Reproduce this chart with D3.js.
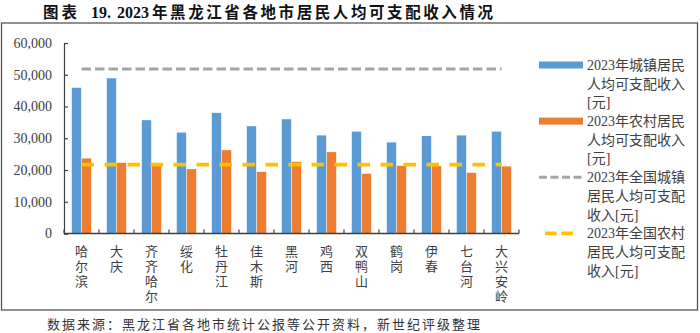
<!DOCTYPE html>
<html><head><meta charset="utf-8">
<script src="https://cdn.jsdelivr.net/npm/d3@7"></script>
<style>body{margin:0;background:#fff;}svg{display:block;}</style>
</head><body>
<svg id="c" width="700" height="333"></svg>
<script>
const categories = ["哈尔滨","大庆","齐齐哈尔","绥化","牡丹江","佳木斯","黑河","鸡西","双鸭山","鹤岗","伊春","七台河","大兴安岭"];
const urbanIncome = [45900, 48900, 35700, 31800, 38000, 33800, 36000, 30900, 32100, 28700, 30700, 30900, 32100];
const ruralIncome = [23650, 22270, 21850, 20280, 26260, 19440, 22580, 25630, 18810, 21330, 21230, 19120, 21130];
const nationalUrban = 51821;
const nationalRural = 21691;
const yTicks = [0, 10000, 20000, 30000, 40000, 50000, 60000];
const seriesNames = [
  ["2023年城镇居民","人均可支配收入","[元]"],
  ["2023年农村居民","人均可支配收入","[元]"],
  ["2023年全国城镇","居民人均可支配","收入[元]"],
  ["2023年全国农村","居民人均可支配","收入[元]"]
];
const titleParts = ["图表", "19.", "2023", "年黑龙江省各地市居民人均可支配收入情况"];
const sourceText = "数据来源：黑龙江省各地市统计公报等公开资料，新世纪评级整理";

const svg = d3.select("#c");
const serif = "'Liberation Serif','Times New Roman','Noto Sans CJK SC',serif";
const cjk = "'Noto Sans CJK SC','Liberation Serif',sans-serif";
const axisColor = "#404040";
const colors = ["#5B9BD5", "#ED7D31", "#A5A5A5", "#FFC000"];

// Title
const title = svg.append("text").attr("y", 17.5).attr("font-weight", "bold").attr("fill", "#111");
title.append("tspan").attr("x", 43).attr("font-family", cjk).attr("font-size", 15.5)
  .attr("textLength", 34).attr("lengthAdjust", "spacing").text(titleParts[0]);
title.append("tspan").attr("x", 91).attr("font-family", serif).attr("font-size", 16).text(titleParts[1]);
title.append("tspan").attr("x", 117).attr("font-family", serif).attr("font-size", 16).text(titleParts[2]);
title.append("tspan").attr("x", 152).attr("font-family", cjk).attr("font-size", 15.5)
  .attr("textLength", 341).attr("lengthAdjust", "spacing").text(titleParts[3]);

// Frame
svg.append("rect").attr("x", 1.5).attr("y", 23).attr("width", 696).attr("height", 287)
  .attr("fill", "none").attr("stroke", "#555").attr("stroke-width", 1.3);

// Scales
const x0 = d3.scaleBand().domain(categories).range([64, 519]).paddingInner(0).paddingOuter(0);
const x1 = d3.scaleBand().domain([0, 1]).range([0, x0.bandwidth()]).paddingInner(0).paddingOuter(0.8);
const y = d3.scaleLinear().domain([0, 60000]).range([233.5, 43]);

// Bars
const g = svg.append("g");
const groups = g.selectAll("g.cat").data(categories).enter().append("g")
  .attr("transform", d => `translate(${x0(d)},0)`);
groups.append("rect").attr("x", x1(0)).attr("width", x1.bandwidth() - 0.3)
  .attr("y", (d, i) => y(urbanIncome[i])).attr("height", (d, i) => y(0) - y(urbanIncome[i]))
  .attr("fill", colors[0]);
groups.append("rect").attr("x", x1(1) + 0.3).attr("width", x1.bandwidth() - 0.3)
  .attr("y", (d, i) => y(ruralIncome[i])).attr("height", (d, i) => y(0) - y(ruralIncome[i]))
  .attr("fill", colors[1]);

// National lines
const cx = d => x0(d) + x0.bandwidth() / 2;
const first = categories[0], last = categories[categories.length - 1];
svg.append("line").attr("x1", cx(first)).attr("x2", cx(last))
  .attr("y1", y(nationalUrban)).attr("y2", y(nationalUrban))
  .attr("stroke", colors[2]).attr("stroke-width", 3).attr("stroke-dasharray", "9.5,4");
svg.append("line").attr("x1", cx(first)).attr("x2", cx(last))
  .attr("y1", y(nationalRural)).attr("y2", y(nationalRural))
  .attr("stroke", colors[3]).attr("stroke-width", 3.8).attr("stroke-dasharray", "12.5,10.5");

// Y axis
const yAxis = d3.axisLeft(y).tickValues(yTicks).tickSize(-4).tickPadding(12)
  .tickFormat(d3.format(","));
const ya = svg.append("g").attr("transform", "translate(64,0)").call(yAxis);
ya.select(".domain").attr("stroke", axisColor).attr("stroke-width", 1.2);
ya.selectAll(".tick line").attr("stroke", axisColor).attr("stroke-width", 1.2);
ya.selectAll(".tick text").attr("font-family", serif).attr("font-size", 14).attr("fill", axisColor);

// X axis
const xa = svg.append("g").attr("transform", `translate(0,${y(0)})`);
xa.append("line").attr("x1", 64).attr("x2", 519).attr("stroke", axisColor).attr("stroke-width", 1.3);
xa.selectAll("line.tk").data(categories.concat(["end"])).enter().append("line")
  .attr("x1", (d, i) => i < categories.length ? x0(d) : x0(last) + x0.bandwidth())
  .attr("x2", (d, i) => i < categories.length ? x0(d) : x0(last) + x0.bandwidth())
  .attr("y1", 0).attr("y2", -4).attr("stroke", axisColor).attr("stroke-width", 1.2);
svg.append("g").selectAll("text").data(categories).enter().append("text")
  .attr("x", d => cx(d)).attr("y", 244.5)
  .attr("font-family", cjk).attr("font-size", 13).attr("fill", axisColor)
  .style("writing-mode", "vertical-rl").style("text-orientation", "upright")
  .style("letter-spacing", "2px")
  .text(d => d);

// Legend
const lg = svg.append("g");
const lineH = 18.7;
seriesNames.forEach((lines, i) => {
  const y0 = 65 + i * 3 * lineH;
  if (i < 2) {
    lg.append("rect").attr("x", 539).attr("y", y0 - 3.5).attr("width", 44).attr("height", 7).attr("fill", colors[i]);
  } else if (i === 2) {
    lg.append("line").attr("x1", 539).attr("x2", 583).attr("y1", y0).attr("y2", y0)
      .attr("stroke", colors[2]).attr("stroke-width", 3).attr("stroke-dasharray", "8,3.5");
  } else {
    lg.append("line").attr("x1", 545).attr("x2", 573).attr("y1", y0).attr("y2", y0)
      .attr("stroke", colors[3]).attr("stroke-width", 3.8).attr("stroke-dasharray", "11.5,5");
  }
  const t = lg.append("text").attr("font-family", serif).attr("font-size", 14).attr("fill", axisColor);
  lines.forEach((ln, k) => {
    t.append("tspan").attr("x", 587).attr("y", y0 + k * lineH).attr("dy", "0.35em").text(ln);
  });
});

// Source
svg.append("text").attr("x", 47).attr("y", 324.3).attr("dy", "0.35em")
  .attr("font-family", cjk).attr("font-size", 13).attr("fill", "#333")
  .attr("textLength", 433).attr("lengthAdjust", "spacing").text(sourceText);
</script>
</body></html>
